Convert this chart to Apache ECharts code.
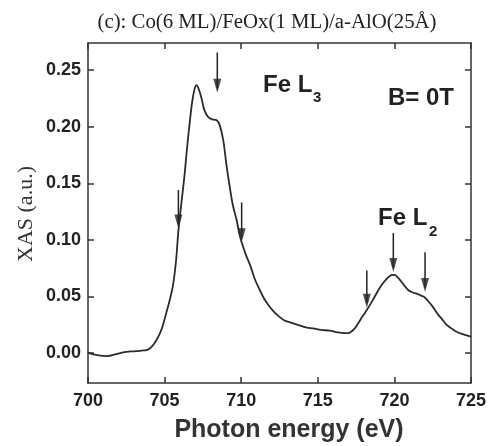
<!DOCTYPE html>
<html><head><meta charset="utf-8">
<script src="https://cdn.jsdelivr.net/npm/echarts@6/dist/echarts.min.js"></script>
<style>html,body{margin:0;padding:0;background:#fff}#c{width:490px;height:446px}</style>
</head><body><div id="c"></div>
<script>
const energy = [700.0,700.3,700.6,701.0,701.3,701.7,702.15,702.5,702.8,703.2,703.5,703.8,704.0,704.25,704.45,704.7,704.9,705.1,705.3,705.55,705.75,705.9,706.1,706.3,706.45,706.65,706.8,706.95,707.08,707.25,707.42,707.6,707.85,708.1,708.4,708.6,708.83,709.05,709.25,709.45,709.7,709.9,710.05,710.3,710.6,710.9,711.2,711.5,711.8,712.1,712.4,712.8,713.2,713.8,714.3,714.7,715.2,715.8,716.2,716.7,717.0,717.2,717.45,717.65,717.9,718.2,718.6,718.95,719.25,719.5,719.7,719.9,720.05,720.2,720.4,720.6,720.9,721.2,721.45,721.7,721.95,722.2,722.5,722.8,723.1,723.4,723.7,724.05,724.5,725.0];
const xas = [0.0003,-0.0010,-0.0018,-0.0025,-0.0027,-0.0015,0.0002,0.0010,0.0014,0.0016,0.0022,0.0026,0.0038,0.0070,0.0110,0.0175,0.0250,0.0350,0.0450,0.0600,0.0820,0.1080,0.1330,0.1570,0.1790,0.2050,0.2220,0.2330,0.2368,0.2325,0.2245,0.2145,0.2085,0.2065,0.2058,0.2012,0.1880,0.1650,0.1470,0.1310,0.1175,0.1040,0.0970,0.0870,0.0770,0.0650,0.0560,0.0480,0.0420,0.0370,0.0330,0.0290,0.0270,0.0245,0.0225,0.0218,0.0205,0.0197,0.0185,0.0175,0.0176,0.0190,0.0225,0.0265,0.0320,0.0380,0.0470,0.0555,0.0616,0.0655,0.0680,0.0690,0.0689,0.0670,0.0640,0.0605,0.0557,0.0535,0.0525,0.0510,0.0495,0.0460,0.0410,0.0350,0.0300,0.0250,0.0220,0.0188,0.0165,0.0144];
const xTicks = [700,705,710,715,720,725];
const yTicks = [0.00,0.05,0.10,0.15,0.20,0.25];
const arrowX = [705.9,708.44,710.03,718.2,719.93,722.0];
const arrowTop = [0.144,0.2656,0.133,0.073,0.106,0.089];
const arrowTip = [0.110,0.230,0.098,0.040,0.0716,0.054];

const chart = echarts.init(document.getElementById('c'), null, {renderer:'canvas'});
const axisLineStyle = {color:'#333', width:1.5};
const tickStyle = {color:'#333', width:1.5};
const labelFont = {fontSize:18, fontWeight:'bold', color:'#222', fontFamily:'Liberation Sans, Arial, sans-serif'};

const arrowSeries = arrowX.map((x,i)=>({
  type:'line', xAxisIndex:0, yAxisIndex:0, silent:true, showSymbol:false, animation:false,
  data:[[x,arrowTop[i]],[x,arrowTip[i]+0.004]],
  lineStyle:{color:'#222', width:1.5}
}));

chart.setOption({
  animation:false,
  backgroundColor:'#fff',
  grid:{left:88, right:19, top:43, bottom:63},
  xAxis:[
    {type:'value', min:700, max:725, interval:5, position:'bottom',
     axisLine:{show:true, onZero:false, lineStyle:axisLineStyle},
     axisTick:{show:true, inside:true, length:6, lineStyle:tickStyle},
     axisLabel:Object.assign({margin:9, formatter:v=>String(v)}, labelFont),
     splitLine:{show:false}},
    {type:'value', min:700, max:725, interval:5, position:'top',
     axisLine:{show:true, onZero:false, lineStyle:axisLineStyle},
     axisTick:{show:true, inside:true, length:6, lineStyle:tickStyle},
     axisLabel:{show:false}, splitLine:{show:false}}
  ],
  yAxis:[
    {type:'value', min:-0.0265, max:0.274, position:'left',
     axisLine:{show:true, onZero:false, lineStyle:axisLineStyle},
     axisTick:{show:true, inside:true, length:6, lineStyle:tickStyle, customValues:yTicks},
     axisLabel:Object.assign({margin:7, customValues:yTicks, formatter:v=>Number(v).toFixed(2)}, labelFont),
     splitLine:{show:false}},
    {type:'value', min:-0.0265, max:0.274, position:'right',
     axisLine:{show:true, onZero:false, lineStyle:axisLineStyle},
     axisTick:{show:true, inside:true, length:6, lineStyle:tickStyle, customValues:yTicks},
     axisLabel:{show:false}, splitLine:{show:false}}
  ],
  series:[
    {type:'line', name:'XAS', xAxisIndex:0, yAxisIndex:0, showSymbol:false, smooth:0.35,
     data:energy.map((e,i)=>[e,xas[i]]),
     lineStyle:{color:'#2b2b2b', width:1.8}},
    ...arrowSeries,
    {type:'scatter', xAxisIndex:0, yAxisIndex:0, silent:true,
     symbol:'path://M0,0L10,0L5,26Z', symbolSize:[8,14], symbolOffset:[0,'-50%'],
     itemStyle:{color:'#222'},
     data:arrowX.map((x,i)=>[x,arrowTip[i]])}
  ],
  graphic:[
    {type:'text', x:267, y:23, style:{text:'(c): Co(6 ML)/FeOx(1 ML)/a-AlO(25Å)', fontFamily:'Liberation Serif, Times New Roman, serif', fontSize:20.8, fill:'#222', align:'center', verticalAlign:'middle'}},
    {type:'text', x:26, y:214, rotation:Math.PI/2, style:{text:'XAS (a.u.)', fontFamily:'Liberation Serif, Times New Roman, serif', fontSize:22, fill:'#333', align:'center', verticalAlign:'middle'}},
    {type:'text', x:289, y:430, style:{text:'Photon energy (eV)', fontFamily:'Liberation Sans, Arial, sans-serif', fontWeight:'bold', fontSize:25, fill:'#333', align:'center', verticalAlign:'middle'}},
    {type:'text', x:263, y:85, style:{text:'Fe L', fontFamily:'Liberation Sans, Arial, sans-serif', fontWeight:'bold', fontSize:24, fill:'#222', align:'left', verticalAlign:'middle'}},
    {type:'text', x:313, y:98, style:{text:'3', fontFamily:'Liberation Sans, Arial, sans-serif', fontWeight:'bold', fontSize:15, fill:'#222', align:'left', verticalAlign:'middle'}},
    {type:'text', x:388, y:98, style:{text:'B= 0T', fontFamily:'Liberation Sans, Arial, sans-serif', fontWeight:'bold', fontSize:24, fill:'#222', align:'left', verticalAlign:'middle'}},
    {type:'text', x:378, y:218, style:{text:'Fe L', fontFamily:'Liberation Sans, Arial, sans-serif', fontWeight:'bold', fontSize:24, fill:'#222', align:'left', verticalAlign:'middle'}},
    {type:'text', x:429, y:232, style:{text:'2', fontFamily:'Liberation Sans, Arial, sans-serif', fontWeight:'bold', fontSize:15, fill:'#222', align:'left', verticalAlign:'middle'}}
  ]
});
</script>
</body></html>
